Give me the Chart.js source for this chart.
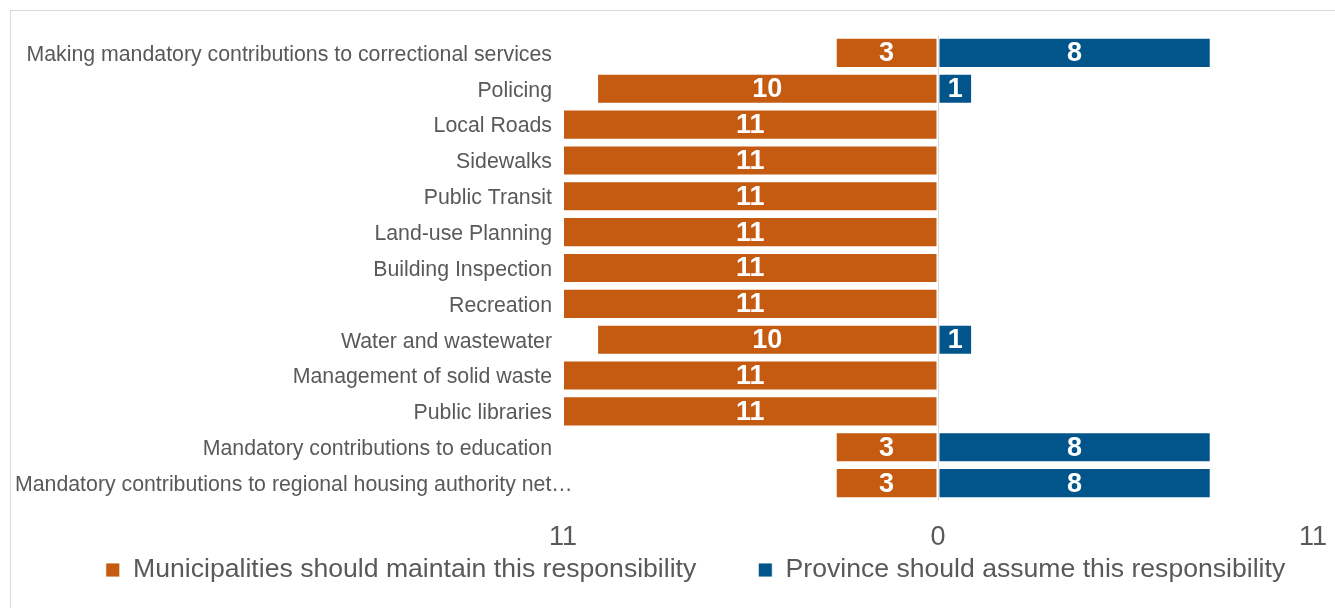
<!DOCTYPE html>
<html>
<head>
<meta charset="utf-8">
<title>Responsibilities</title>
<script src="https://cdn.jsdelivr.net/npm/chart.js@4.4.1/dist/chart.umd.min.js"></script>
<style>
    html, body { margin: 0; padding: 0; background: #ffffff; overflow: hidden; }
    #wrap { position: relative; width: 1335px; height: 608px; }
    #frame { position: absolute; left: 10px; top: 10px; width: 1400px; height: 700px; border: 1px solid #d9d9d9; }
    #chart { position: absolute; left: 0; top: 0; }
</style>
</head>
<body>
<div id="wrap">
    <div id="frame"></div>
    <canvas id="chart" width="1335" height="608"></canvas>
</div>
<script>
const categories = [
    'Making mandatory contributions to correctional services',
    'Policing',
    'Local Roads',
    'Sidewalks',
    'Public Transit',
    'Land-use Planning',
    'Building Inspection',
    'Recreation',
    'Water and wastewater',
    'Management of solid waste',
    'Public libraries',
    'Mandatory contributions to education',
    'Mandatory contributions to regional housing authority net\u2026'
];
const municipalCounts = [3, 10, 11, 11, 11, 11, 11, 11, 10, 11, 11, 3, 3];
const provinceCounts = [8, 1, 0, 0, 0, 0, 0, 0, 1, 0, 0, 8, 8];
const axisTicks = [-11, 0, 11];

const ORANGE = '#c55a11';
const BLUE = '#02558b';
const TEXT = '#595959';
const FONT = "'Liberation Sans', Arial, sans-serif";
const CAT_FONT = 21.3;

const LEGEND_FONT = 26.6;
const LEGEND_GAP = 62;
const LEGEND_Y = 570;     // centre line of the legend row
const LEGEND_SHIFT = 39;  // nudge the row right of the canvas centre

// the truncated last category is too long to right-align, so it starts at the left edge
const LONG_IDX = categories.length - 1;

// white count labels centred in each bar segment
const barLabels = {
    id: 'barLabels',
    afterDatasetsDraw(chart) {
        const ctx = chart.ctx;
        const sources = [municipalCounts, provinceCounts];
        ctx.save();
        ctx.fillStyle = '#ffffff';
        ctx.font = 'bold 27px ' + FONT;
        ctx.textAlign = 'center';
        ctx.textBaseline = 'middle';
        chart.data.datasets.forEach((ds, di) => {
            const meta = chart.getDatasetMeta(di);
            meta.data.forEach((bar, i) => {
                const v = sources[di][i];
                if (!v) return;
                ctx.fillText(String(v), (bar.x + bar.base) / 2, bar.y + 1);
            });
        });
        ctx.restore();
    }
};

const longLabel = {
    id: 'longLabel',
    afterDraw(chart) {
        const ctx = chart.ctx;
        const y = chart.scales.y.getPixelForValue(LONG_IDX);
        ctx.save();
        ctx.fillStyle = TEXT;
        ctx.font = CAT_FONT + 'px ' + FONT;
        ctx.textAlign = 'left';
        ctx.textBaseline = 'middle';
        ctx.fillText(categories[LONG_IDX], 15, y + 2);
        ctx.restore();
    }
};

// the legend's padding sets the gap between items, but it also pads vertically,
// so move the box after layout instead of letting it push the plot up
const legendPlace = {
    id: 'legendPlace',
    afterLayout(chart) {
        const lg = chart.legend;
        if (!lg) return;
        lg.top = LEGEND_Y - LEGEND_GAP - LEGEND_FONT / 2;
        lg.bottom = chart.height;
        lg.height = lg.bottom - lg.top;
        lg.left += LEGEND_SHIFT;
        lg.right += LEGEND_SHIFT;
    }
};

new Chart(document.getElementById('chart'), {
    type: 'bar',
    data: {
        labels: categories,
        datasets: [{
            label: 'Municipalities should maintain this responsibility',
            data: municipalCounts.map(v => -v),
            backgroundColor: ORANGE,
            borderColor: 'rgba(255,255,255,0.85)',
            borderWidth: 1,
            borderSkipped: false
        }, {
            label: 'Province should assume this responsibility',
            data: provinceCounts,
            backgroundColor: BLUE,
            borderColor: 'rgba(255,255,255,0.85)',
            borderWidth: 1,
            borderSkipped: false
        }]
    },
    options: {
        indexAxis: 'y',
        responsive: false,
        animation: false,
        barPercentage: 0.84,
        categoryPercentage: 1,
        layout: { padding: { top: 35, right: 22, bottom: 0, left: 0 } },
        plugins: {
            legend: {
                position: 'bottom',
                maxHeight: 57,
                labels: {
                    color: TEXT,
                    font: { family: FONT, size: LEGEND_FONT },
                    boxWidth: 14,
                    boxHeight: 14,
                    padding: LEGEND_GAP
                }
            },
            tooltip: { enabled: false }
        },
        scales: {
            x: {
                stacked: true,
                min: -11,
                max: 11,
                afterBuildTicks: (scale) => { scale.ticks = axisTicks.map(v => ({ value: v })); },
                afterFit: (scale) => {
                    scale.height = 50;
                    scale.paddingLeft = 0;
                    scale.paddingRight = 0;
                },
                border: { display: false },
                grid: {
                    drawTicks: false,
                    color: (c) => (c.tick && c.tick.value === 0) ? '#d9d9d9' : 'rgba(0,0,0,0)'
                },
                ticks: {
                    color: TEXT,
                    font: { family: FONT, size: 27 },
                    padding: 20,
                    maxRotation: 0,
                    callback: (v) => String(Math.abs(v))
                }
            },
            y: {
                stacked: true,
                afterFit: (scale) => { scale.width = 563; },
                border: { display: false },
                grid: { display: false, drawTicks: false },
                ticks: {
                    color: TEXT,
                    font: { family: FONT, size: CAT_FONT },
                    padding: 11,
                    labelOffset: 2,
                    autoSkip: false,
                    callback: (v, i) => i === LONG_IDX ? '' : categories[i]
                }
            }
        }
    },
    plugins: [barLabels, longLabel, legendPlace]
});
</script>
</body>
</html>
